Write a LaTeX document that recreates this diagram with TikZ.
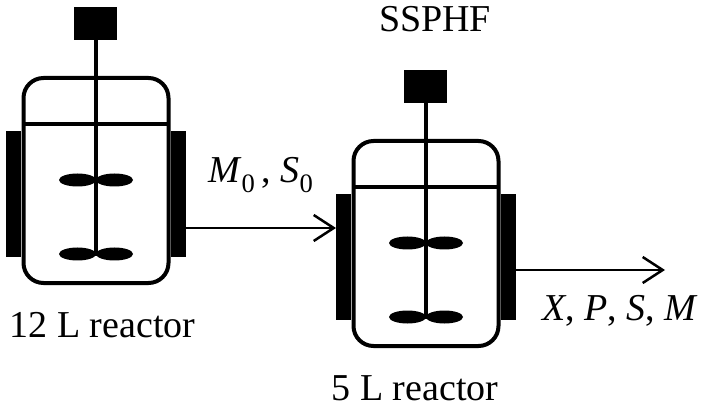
\documentclass[tikz,border=0pt]{standalone}
\usepackage{fontspec}
\setmainfont{Liberation Serif}
\usetikzlibrary{arrows.meta,positioning}

\begin{document}
\begin{tikzpicture}[
    x=1pt, y=-1pt,
    % define styles
    jacket/.style={
         fill=black,
         inner sep=0pt,
         minimum width=15pt,
         minimum height=126pt
    },
    flow/.style={
         line width=2pt,
         -{Straight Barb[length=20pt,width=26pt,line width=2.5pt]}
    },
    txt/.style={
         inner sep=0pt,
         anchor=base,
         font=\fontsize{38}{44}\selectfont
    },
    reactor/.pic={
        % motor and shaft
        \fill (-22,-69) rectangle (21,-36);
        \draw[line width=4pt] (0,-36) -- (0,180);
        % vessel with head line
        \draw[line width=4pt, rounded corners=20pt] (-72.5,2) rectangle (72.5,207);
        \draw[line width=4pt] (-72.5,48) -- (72.5,48);
        % jackets
        \node[jacket] (-jl) at (-82.5,118) {};
        \node[jacket] (-jr) at (82.5,118) {};
        % impellers
        \foreach \h in {104,178} {
            \fill (-18.5,\h) ellipse [x radius=18.5pt, y radius=6.5pt];
            \fill (18.5,\h) ellipse [x radius=18.5pt, y radius=6.5pt];
        }
        % feed and outlet points
        \coordinate (-in) at (-90,89);
        \coordinate (-out) at (90,131);
    }
]
\useasboundingbox (0,0) rectangle (707,414);

% the two reactors
\pic (big) at (96,76) {reactor};
\pic (small) at (426,139) {reactor};

% labels
\node[txt] (title) at (435,32) {SSPHF};
\node[txt] (bigname) at (102.5,337) {12 L reactor};
\node[txt] (smallname) at (415,400) {5 L reactor};

% streams
\coordinate (prod) at (665,270);
\draw[flow] (big-jr.east |- small-in) -- (small-in);
\draw[flow] (small-out) -- (prod);
\node[txt, anchor=base west] (feed) at (208,183)
    {\textit{M}\textsubscript{0}\,, \textit{S}\textsubscript{0}};
\node[txt, anchor=base west] (products) at (542,320)
    {\textit{X}, \textit{P}, \textit{S}, \textit{M}};
\end{tikzpicture}
\end{document}
